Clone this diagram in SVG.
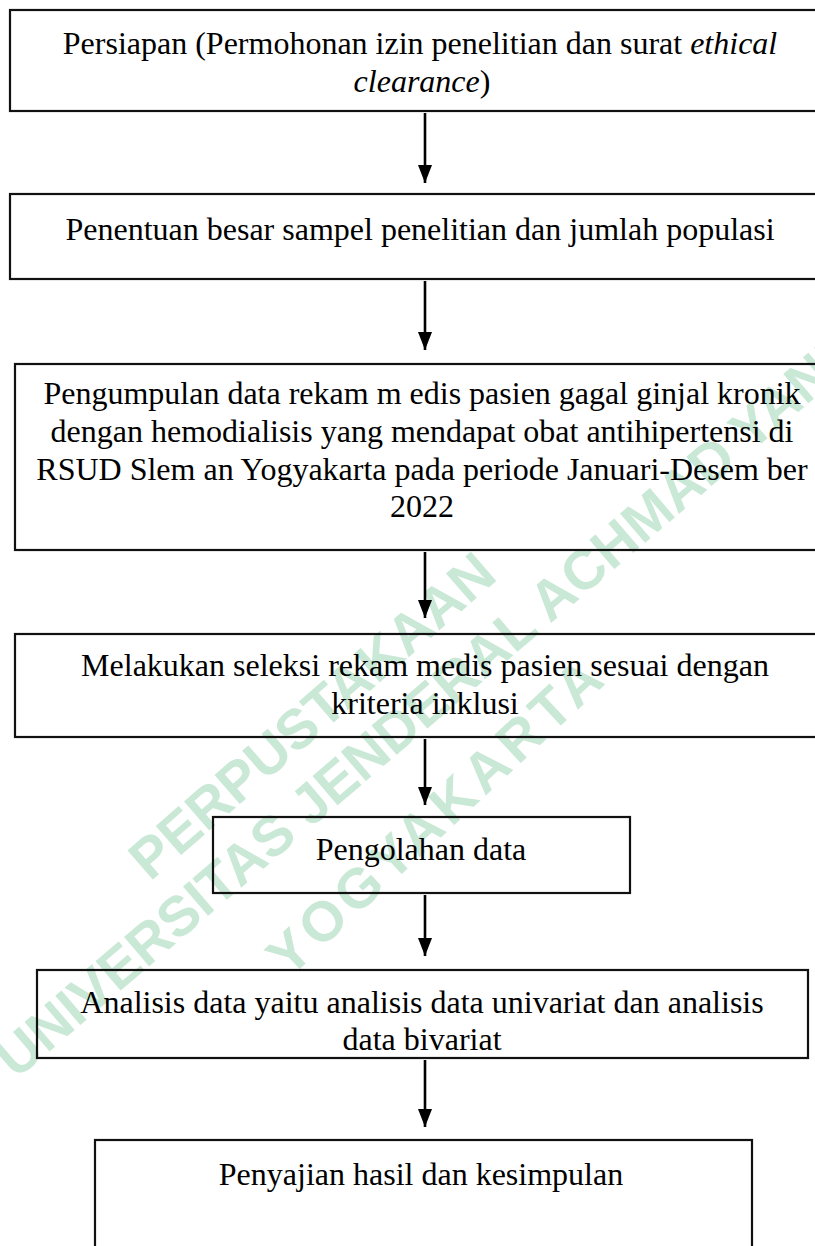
<svg xmlns="http://www.w3.org/2000/svg" width="815" height="1246" viewBox="0 0 815 1246">
<defs>
<style>
.box{fill:none;stroke:#111;stroke-width:2.2}
.t{font-family:"Liberation Serif","Times New Roman",serif;font-size:32px;fill:#000;text-anchor:middle}
.i{font-style:italic}
.wm{font-family:"Liberation Sans",Arial,sans-serif;font-weight:bold;font-size:56px;fill:#c9e8d6}
.conn{stroke:#000;stroke-width:2.6;fill:none}
</style>
<marker id="ah" viewBox="0 0 18 14" refX="18" refY="7" markerWidth="18" markerHeight="14" markerUnits="userSpaceOnUse" orient="auto">
<path d="M0,0 L18,7 L0,14 Z" fill="#000"/>
</marker>
</defs>
<rect x="0" y="0" width="815" height="1246" fill="#fff"/>
<g id="watermark">
<text class="wm" transform="translate(150,882) rotate(-41)">PERPUSTAKAAN</text>
<text class="wm" transform="translate(16,1080) rotate(-40.5)">UNIVERSITAS JENDERAL ACHMAD YANI</text>
<text class="wm" letter-spacing="5" transform="translate(289,979) rotate(-43)">YOGYAKARTA</text>
</g>
<g id="connectors">
<line class="conn" x1="425" y1="113" x2="425" y2="183" marker-end="url(#ah)"/>
<line class="conn" x1="425" y1="281" x2="425" y2="350" marker-end="url(#ah)"/>
<line class="conn" x1="425" y1="552" x2="425" y2="618" marker-end="url(#ah)"/>
<line class="conn" x1="425" y1="739" x2="425" y2="805" marker-end="url(#ah)"/>
<line class="conn" x1="425" y1="895" x2="425" y2="956" marker-end="url(#ah)"/>
<line class="conn" x1="425" y1="1060" x2="425" y2="1127" marker-end="url(#ah)"/>
</g>
<g id="n1">
<rect class="box" x="10" y="10" width="820" height="101"/>
<text class="t" x="420" y="54">Persiapan (Permohonan izin penelitian dan surat <tspan class="i">ethical</tspan></text>
<text class="t" x="422" y="92"><tspan class="i">clearance</tspan>)</text>
</g>
<g id="n2">
<rect class="box" x="10" y="194" width="820" height="85"/>
<text class="t" x="420" y="240">Penentuan besar sampel penelitian dan jumlah populasi</text>
</g>
<g id="n3">
<rect class="box" x="15" y="364" width="815" height="186"/>
<text class="t" x="422" y="404">Pengumpulan data rekam m edis pasien gagal ginjal kronik</text>
<text class="t" x="422" y="442">dengan hemodialisis yang mendapat obat antihipertensi di</text>
<text class="t" x="422" y="480">RSUD Slem an Yogyakarta pada periode Januari-Desem ber</text>
<text class="t" x="422" y="517">2022</text>
</g>
<g id="n4">
<rect class="box" x="15" y="634" width="815" height="103"/>
<text class="t" x="425" y="676">Melakukan seleksi rekam medis pasien sesuai dengan</text>
<text class="t" x="425" y="714">kriteria inklusi</text>
</g>
<g id="n5">
<rect class="box" x="213" y="817" width="417" height="76"/>
<text class="t" x="421" y="860">Pengolahan data</text>
</g>
<g id="n6">
<rect class="box" x="37" y="970" width="771" height="88"/>
<text class="t" x="422" y="1013">Analisis data yaitu analisis data univariat dan analisis</text>
<text class="t" x="422" y="1050">data bivariat</text>
</g>
<g id="n7">
<rect class="box" x="95" y="1140" width="657" height="130"/>
<text class="t" x="421" y="1185">Penyajian hasil dan kesimpulan</text>
</g>
</svg>
